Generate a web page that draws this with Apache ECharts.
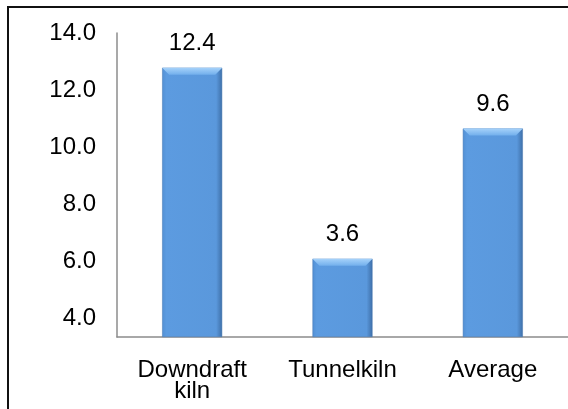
<!DOCTYPE html>
<html>
<head>
<meta charset="utf-8">
<script src="https://cdn.jsdelivr.net/npm/echarts@6/dist/echarts.min.js"></script>
<style>
  html, body { margin: 0; padding: 0; background: #fff; }
  #chart { width: 568px; height: 409px; }
</style>
</head>
<body>
<div id="chart"></div>
<script>
const categories = ["Downdraft\nkiln", "Tunnelkiln", "Average"];
const values     = [12.4, 3.6, 9.6];
const tickLabels = [4, 6, 8, 10, 12, 14];

const chart = echarts.init(document.getElementById("chart"), null, { renderer: "canvas" });
const font = "Liberation Sans, Arial, sans-serif";

const barColor = new echarts.graphic.LinearGradient(0, 0, 1, 0, [
  { offset: 0,    color: "#5290d4" },
  { offset: 0.07, color: "#5c9be0" },
  { offset: 0.9,  color: "#5a98dc" },
  { offset: 1,    color: "#3e6fa8" },
]);

// light bevel on top of each bar, placed through the axes
function renderBevel(params, api) {
  const top = api.coord([api.value(0), api.value(1)]);
  const w = api.size([1, 0])[0] * 0.4;
  const x0 = top[0] - w / 2, x1 = top[0] + w / 2, y = top[1], h = 7;
  return {
    type: "polygon",
    shape: { points: [[x0, y], [x1, y], [x1 - h, y + h], [x0 + h, y + h]] },
    style: {
      fill: new echarts.graphic.LinearGradient(0, 0, 0, 1, [
        { offset: 0, color: "#a6d2fa" },
        { offset: 1, color: "#72afec" },
      ]),
    },
  };
}

chart.setOption({
  backgroundColor: "#fff",
  animation: false,
  grid: { left: 117, right: 0, top: 33, bottom: 72 },
  graphic: [{
    type: "rect",
    shape: { x: 8, y: 7, width: 600, height: 450 },
    style: { fill: "none", stroke: "#111", lineWidth: 2 },
    z: 100,
  }],
  xAxis: {
    type: "category",
    data: categories,
    axisLine: { lineStyle: { color: "#8c8c8c", width: 1.5 } },
    axisTick: { show: false },
    axisLabel: {
      color: "#000", fontSize: 24, fontFamily: font,
      lineHeight: 21, margin: 23, interval: 0,
    },
  },
  yAxis: [
    {
      type: "value", min: 0, max: 14,
      axisLine: { show: true, lineStyle: { color: "#8c8c8c", width: 1.5 } },
      axisTick: { show: false },
      axisLabel: { show: false },
      splitLine: { show: false },
    },
    {
      type: "value", min: 3.333, max: 14, position: "left", offset: 0,
      axisLine: { show: false },
      axisTick: { show: false },
      splitLine: { show: false },
      axisLabel: {
        customValues: tickLabels,
        color: "#000", fontSize: 24, fontFamily: font, margin: 21,
        formatter: (v) => v.toFixed(1),
      },
    },
  ],
  series: [
    {
      type: "bar",
      data: values,
      barWidth: 60,
      itemStyle: { color: barColor, borderColor: "#4476b0", borderWidth: 0.5 },
      label: {
        show: true, position: "top", distance: 12,
        color: "#000", fontSize: 24, fontFamily: font,
        formatter: (p) => p.value.toFixed(1),
      },
    },
    {
      type: "custom",
      data: values.map((v, i) => [i, v]),
      renderItem: renderBevel,
      z: 3,
      silent: true,
    },
  ],
});
</script>
</body>
</html>
